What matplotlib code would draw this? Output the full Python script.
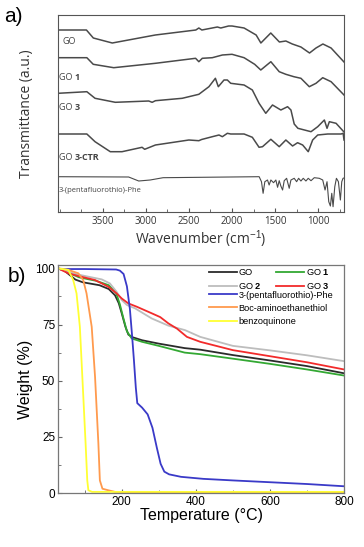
import matplotlib.pyplot as plt
from matplotlib.ticker import MultipleLocator, FixedLocator

plt.rcParams['mathtext.fontset'] = 'custom'
plt.rcParams['mathtext.rm'] = 'Liberation Sans'
plt.rcParams['mathtext.bf'] = 'Liberation Sans:bold'

# ---- panel a: FTIR spectra (offset traces, a.u.) ----
wn_go = [4020, 3690, 3610, 3390, 2890, 2420, 2385, 2350, 2230, 2170, 2130, 2040, 2000,
         1860, 1720, 1665, 1550, 1450, 1375, 1300, 1200, 1100, 1025, 945, 850, 700]
tr_go = [182, 182, 174, 169, 177, 182, 184, 182, 184, 185, 184, 186, 186,
         184, 177, 169, 179, 170, 171, 168, 165, 159, 164, 168, 164, 150]

wn_go1 = [4020, 3685, 3611, 3373, 2889, 2423, 2385, 2345, 2229, 2112, 2000, 1860,
          1737, 1666, 1549, 1452, 1375, 1282, 1200, 1103, 1025, 947, 850, 700]
tr_go1 = [154.3, 154.3, 147.7, 144.3, 148.7, 153.7, 150.3, 153.7, 154.3, 157, 157.7, 154.3,
          147.7, 142, 150.3, 140.3, 137.7, 135.3, 133.7, 125.3, 128.7, 134.3, 130.3, 117]

wn_go3 = [4020, 3685, 3590, 3355, 2967, 2927, 2889, 2578, 2385, 2268, 2193, 2159, 2093, 2054,
          2015, 1860, 1764, 1686, 1608, 1530, 1433, 1355, 1316, 1278, 1235, 1083, 1005, 928,
          897, 870, 792, 700]
tr_go3 = [118.7, 120.3, 113.7, 109.7, 111, 109.7, 111.3, 113.7, 117.7, 125.3, 133.7, 125.3, 132, 132,
          128.7, 127, 122, 108.7, 98.7, 107, 102, 105.3, 102, 88, 83.7, 80.3, 85.3, 92,
          83.7, 90.3, 88.7, 80]

wn_ctr = [4020, 3685, 3590, 3413, 3277, 3044, 3014, 2889, 2501, 2385, 2353, 2229, 2151, 2112,
          2054, 2015, 1860, 1764, 1686, 1646, 1549, 1452, 1375, 1297, 1239, 1180, 1115, 1064,
          1005, 889, 734, 710, 700]
tr_ctr = [78, 78, 70.3, 60.3, 60.3, 64.7, 62.7, 67, 72, 71.3, 72.5, 75.3, 77, 75.3,
          78.7, 78, 78, 74.7, 64.7, 65.3, 72.7, 65.3, 72, 66, 69.3, 67, 60.3, 72,
          77, 78, 78, 78.7, 72]

wn_phe = [4020, 3200, 3083, 2950, 2800, 1685, 1658, 1639, 1619, 1588, 1569, 1549, 1518, 1491,
          1471, 1452, 1433, 1413, 1394, 1366, 1336, 1316, 1278, 1250, 1227, 1200, 1173, 1142,
          1115, 1083, 1045, 987, 947, 920, 897, 877, 858, 842, 827, 807, 788, 765, 742, 726,
          711, 700]
tr_phe = [35.3, 35, 31, 32, 34.3, 35.3, 30.3, 18.7, 30.3, 32, 27, 32, 29.3, 32,
          24.7, 31.3, 26, 22, 31.3, 33.7, 23.7, 32, 33.7, 30.3, 33.7, 31, 33.7, 31,
          33.7, 31.3, 34.3, 33.7, 32, 22, 30.3, 10.3, 6, 18.7, 5.3, 25.3, 33.7, 30.3, 12, 30.3,
          33.7, 34]

wn_ticks = [3500, 3000, 2500, 2000, 1500, 1000]

# ---- panel b: TGA ----
t_go = [28, 45, 60, 75, 95, 140, 165, 182, 192, 200, 210, 218, 230, 255, 300, 370, 412, 500, 600, 700, 800]
w_go = [100, 99, 97, 95, 93.8, 92.5, 90.8, 88, 84.5, 80, 74, 70.5, 69.3, 68, 66.5, 64.5, 63.8, 61.4, 59, 56.5, 53.3]

t_go1 = [28, 45, 60, 85, 130, 165, 185, 195, 205, 214, 227, 255, 300, 370, 412, 500, 600, 700, 800]
w_go1 = [100, 99, 97.8, 96, 94.5, 92.5, 89, 84, 77.5, 72, 68.8, 67.3, 65.5, 62.5, 61.8, 59.8, 57.5, 55, 52.3]

t_go2 = [28, 56, 75, 110, 146, 168, 186, 200, 214, 236, 281, 326, 371, 412, 500, 600, 700, 800]
w_go2 = [100, 98.5, 97.5, 96.3, 95.1, 93.3, 89.6, 85.9, 83.7, 82.2, 77.7, 74.5, 72.5, 69.5, 65.5, 63.5, 61.3, 58.7]

t_go3 = [28, 56, 83, 128, 164, 186, 200, 218, 241, 281, 304, 326, 349, 376, 412, 500, 600, 700, 800]
w_go3 = [100, 97.8, 96.6, 94.8, 91.8, 88.9, 86.6, 84.4, 82.9, 80, 78.3, 75.5, 73.2, 69.5, 67.3, 63.6, 60.9, 58.2, 55]

t_phe = [28, 100, 185, 195, 205, 214, 222, 228, 233, 238, 242, 255, 270, 283, 295, 305, 315, 328,
         360, 420, 500, 600, 700, 800]
w_phe = [99.7, 99.7, 99.5, 99, 97.5, 92, 82, 70, 59, 47, 40, 38, 35, 29, 20, 13, 9.5, 8.3,
         7.2, 6.3, 5.6, 4.8, 4, 3]

t_boc = [28, 56, 83, 96, 105, 119, 128, 137, 141, 148, 164, 182, 250, 800]
w_boc = [100, 99.3, 97.8, 94.8, 88.9, 74, 51.7, 22, 5.6, 1.9, 1.2, 0.5, 0.3, 0.3]

t_bq = [28, 56, 69, 78, 87, 96, 102.5, 107, 110, 120, 800]
w_bq = [100, 99.3, 94.8, 88.9, 74, 44, 22, 5.6, 1.2, 0.5, 0.5]

W, H = 364, 547
fig = plt.figure(figsize=(W / 100, H / 100), dpi=100)

def box(x0, y0, x1, y1):
    return [x0 / W, 1 - y1 / H, (x1 - x0) / W, (y1 - y0) / H]

# ---------------- panel a ----------------
ax1 = fig.add_axes(box(58, 15, 344, 212))
lc = '#4a4a4a'
for wn, tr in [(wn_go, tr_go), (wn_go1, tr_go1), (wn_go3, tr_go3), (wn_ctr, tr_ctr)]:
    ax1.plot(wn, tr, color=lc, lw=1.1)
ax1.plot(wn_phe, tr_phe, color=lc, lw=0.8)
ax1.set_xlim(4020, 700)
ax1.set_ylim(0, 197)
ax1.set_yticks([])
ax1.xaxis.set_major_locator(FixedLocator(wn_ticks))
ax1.xaxis.set_minor_locator(MultipleLocator(250))
ax1.tick_params(axis='x', which='both', direction='in', top=False, labelsize=7,
                labelcolor='#333333', color='#555555', pad=3)
ax1.tick_params(axis='x', which='major', length=3)
ax1.tick_params(axis='x', which='minor', length=2)
for lab in ax1.get_xticklabels():
    lab.set_fontfamily('Open Sans')
for s in ax1.spines.values():
    s.set_color('#555555')
    s.set_linewidth(0.8)
ax1.set_xlabel('Wavenumber (cm$^{-1}$)', family='Open Sans', fontsize=10, color='#333333', labelpad=1)
ax1.set_ylabel('Transmittance (a.u.)', family='Open Sans', fontsize=10, color='#333333', labelpad=17)

def label(ax, x, y, normal, bold, size=6.5):
    t = ax.text(x, y, normal, family='Open Sans', fontsize=size, color='#444444', va='center', ha='left')
    if bold:
        ax.annotate(bold, xy=(1, 0), xycoords=t, va='bottom', ha='left', family='Open Sans',
                    fontsize=size, color='#444444', fontweight='bold')

label(ax1, 3972, 170, 'GO', '')
label(ax1, 4012, 134, 'GO ', '1')
label(ax1, 4012, 105, 'GO ', '3')
label(ax1, 4012, 54, 'GO ', '3-CTR')
label(ax1, 4012, 21, '3-(pentafluorothio)-Phe', '', size=5.5)

fig.text(4 / W, 1 - 16 / H, 'a)', fontsize=15, family='Liberation Sans', va='center', ha='left')

# ---------------- panel b ----------------
ax2 = fig.add_axes(box(58, 265, 344, 493))
h_go, = ax2.plot(t_go, w_go, color='#2b2b2b', lw=1.3)
h_go1, = ax2.plot(t_go1, w_go1, color='#33a833', lw=1.3)
h_go2, = ax2.plot(t_go2, w_go2, color='#bdbdbd', lw=1.3)
h_go3, = ax2.plot(t_go3, w_go3, color='#f22b2b', lw=1.3)
h_phe, = ax2.plot(t_phe, w_phe, color='#3a3ac8', lw=1.3)
h_boc, = ax2.plot(t_boc, w_boc, color='#ff9a4d', lw=1.3)
h_bq, = ax2.plot(t_bq, w_bq, color='#ffff33', lw=1.3)
ax2.set_xlim(28, 800)
ax2.set_ylim(0, 101.5)
ax2.xaxis.set_major_locator(MultipleLocator(200))
ax2.xaxis.set_minor_locator(MultipleLocator(100))
ax2.yaxis.set_major_locator(MultipleLocator(25))
ax2.yaxis.set_minor_locator(MultipleLocator(12.5))
ax2.tick_params(which='both', direction='in', labelsize=8.5, color='#666666', pad=2)
ax2.tick_params(which='major', length=3)
ax2.tick_params(which='minor', length=2)
for lab in ax2.get_xticklabels() + ax2.get_yticklabels():
    lab.set_fontfamily('Liberation Sans')
for s in ax2.spines.values():
    s.set_color('#777777')
    s.set_linewidth(0.9)
ax2.set_xlabel('Temperature (°C)', family='Liberation Sans', fontsize=11.5, labelpad=0)
ax2.set_ylabel('Weight (%)', family='Liberation Sans', fontsize=11.5, labelpad=2)

leg_kw = dict(frameon=False, handlelength=3.0, handletextpad=0.2, borderaxespad=0, borderpad=0,
              labelspacing=0.45, prop={'family': 'Liberation Sans', 'size': 6.6})
leg1 = ax2.legend([h_go, h_go2, h_go1, h_go3], ['GO', 'GO $\\mathbf{2}$', 'GO $\\mathbf{1}$', 'GO $\\mathbf{3}$'],
                  ncol=2, columnspacing=1.6, loc='upper left',
                  bbox_to_anchor=((209 - 58) / 286, 1 - 2 / 228), **leg_kw)
ax2.add_artist(leg1)
ax2.legend([h_phe, h_boc, h_bq], ['3-(pentafluorothio)-Phe', 'Boc-aminoethanethiol', 'benzoquinone'],
           loc='upper left', bbox_to_anchor=((209 - 58) / 286, 1 - 25.5 / 228), **leg_kw)

fig.text(8 / W, 1 - 276 / H, 'b)', fontsize=15, family='Liberation Sans', va='center', ha='left')

fig.savefig('out.png', dpi=100)
